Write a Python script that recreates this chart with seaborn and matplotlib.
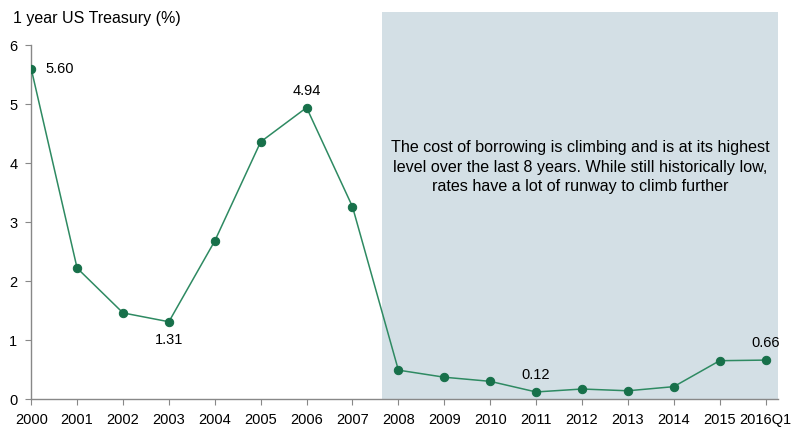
import matplotlib.pyplot as plt
import pandas as pd
import seaborn as sns

# 1 year US Treasury yield
periods = ['2000', '2001', '2002', '2003', '2004', '2005', '2006', '2007', '2008',
           '2009', '2010', '2011', '2012', '2013', '2014', '2015', '2016Q1']
rates = [5.60, 2.22, 1.46, 1.31, 2.68, 4.36, 4.94, 3.26, 0.49,
         0.37, 0.30, 0.12, 0.17, 0.14, 0.21, 0.65, 0.66]
labelled = {'2000': '5.60', '2003': '1.31', '2006': '4.94', '2011': '0.12', '2016Q1': '0.66'}
note = ('The cost of borrowing is climbing and is at its highest\n'
        'level over the last 8 years. While still historically low,\n'
        'rates have a lot of runway to climb further')

df = pd.DataFrame({'period': periods, 'rate': rates})
df['pos'] = range(len(df))

sns.set_style('white')
plt.rcParams['font.family'] = ['Liberation Sans', 'DejaVu Sans']
plt.rcParams['text.color'] = 'black'

fig = plt.figure(figsize=(8, 4.3), dpi=100)
ax = fig.add_axes([0.039, 0.072, 0.934, 0.9])

# shaded "recent" region
ax.axvspan(7.65, 16.28, color='#d3dfe5', zorder=0, lw=0)

sns.lineplot(data=df, x='pos', y='rate', ax=ax, color='#2e8a62', lw=1.1,
             marker='o', markersize=6, markerfacecolor='#17704a',
             markeredgecolor='#17704a', zorder=3)

for i, row in df.iterrows():
    if row['period'] not in labelled:
        continue
    txt = labelled[row['period']]
    if row['period'] == '2000':
        ax.annotate(txt, (row['pos'], row['rate']), xytext=(10, 0),
                    textcoords='offset points', ha='left', va='center', fontsize=10.5)
    elif row['period'] == '2003':
        ax.annotate(txt, (row['pos'], row['rate']), xytext=(0, -8),
                    textcoords='offset points', ha='center', va='top', fontsize=10.5)
    else:
        ax.annotate(txt, (row['pos'], row['rate']), xytext=(0, 7),
                    textcoords='offset points', ha='center', va='bottom', fontsize=10.5)

ax.text(11.96, 3.93, note, ha='center', va='center', fontsize=11.6, linespacing=1.4)

ax.set_xlim(0, 16.28)
ax.set_ylim(0, 6.56)
ax.set_xticks(df['pos'])
ax.set_xticklabels(periods)
ax.set_yticks(range(0, 7))
ax.set_xlabel('')
ax.set_ylabel('')
ax.tick_params(axis='both', labelsize=10.5, colors='#888888', length=4, width=0.8,
               direction='out', bottom=True, left=True, pad=6)
ax.tick_params(axis='both', labelcolor='black')

for s in ['top', 'right']:
    ax.spines[s].set_visible(False)
for s in ['left', 'bottom']:
    ax.spines[s].set_color('#888888')
    ax.spines[s].set_linewidth(1)
ax.spines['left'].set_bounds(0, 6)

fig.text(0.016, 0.975, '1 year US Treasury (%)', ha='left', va='top', fontsize=11.5)

fig.savefig('out.png', dpi=100)
